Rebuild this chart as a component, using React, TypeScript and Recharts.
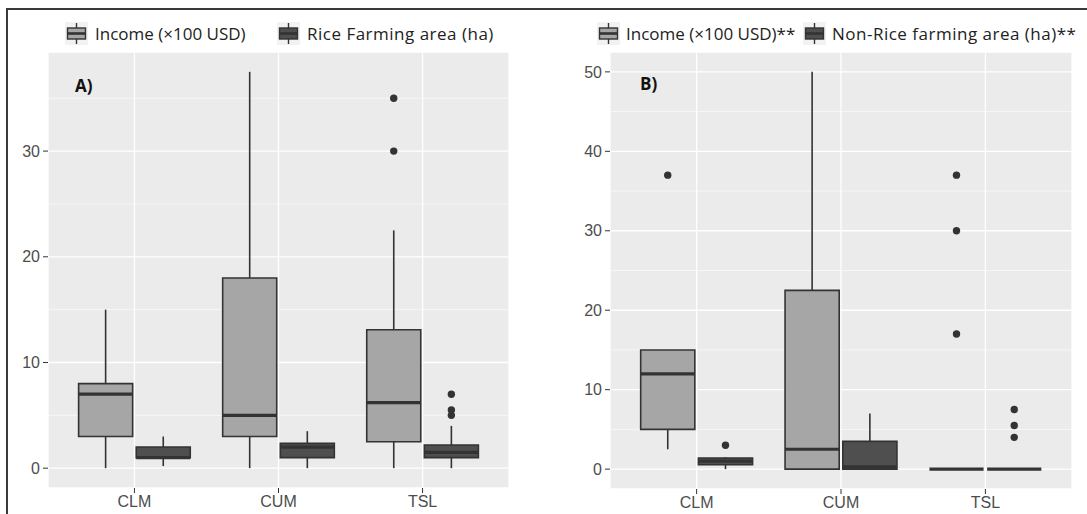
import React from "react";
import { ComposedChart, XAxis, YAxis, CartesianGrid, ReferenceArea, ReferenceLine, Scatter } from "recharts";

const categories = ["CLM", "CUM", "TSL"];

// box stats per category: [lower whisker, Q1, median, Q3, upper whisker]
const incomeA = [[0, 3, 7, 8, 15], [0, 3, 5, 18, 37.5], [0, 2.5, 6.2, 13.1, 22.5]];
const riceAreaA = [[0.2, 1, 1, 2, 3], [0, 1, 2, 2.35, 3.5], [0, 1, 1.5, 2.2, 4]];
const incomeAOutliers = [[], [], [30, 35]];
const riceAreaAOutliers = [[], [], [5, 5.5, 7]];

const incomeB = [[2.5, 5, 12, 15, 15], [0, 0, 2.5, 22.5, 50], [0, 0, 0, 0, 0]];
const nonRiceAreaB = [[0, 0.55, 1, 1.4, 1.5], [0, 0, 0.3, 3.5, 7], [0, 0, 0, 0, 0]];
const incomeBOutliers = [[37], [], [17, 30, 37]];
const nonRiceAreaBOutliers = [[3], [], [4, 5.5, 7.5]];

const ticksA = [0, 10, 20, 30];
const minorA = [5, 15, 25, 35];
const ticksB = [0, 10, 20, 30, 40, 50];
const minorB = [5, 15, 25, 35, 45];

const INCOME_FILL = "#a6a6a6";
const AREA_FILL = "#4f4f4f";
const LINE = "#333333";
const DODGE = 0.2;
const HALF = 0.1875;

type Series = { stats: number[][]; outliers: number[][]; fill: string; offset: number };

function boxElements(s: Series, key: string) {
  const els: React.ReactNode[] = [];
  s.stats.forEach((st, i) => {
    const c = i + 1 + s.offset;
    const [, q1, , q3] = st;
    if (q3 > q1) {
      els.push(
        <ReferenceArea key={`${key}-box-${i}`} x1={c - HALF} x2={c + HALF} y1={q1} y2={q3}
          fill={s.fill} fillOpacity={1} stroke={LINE} strokeWidth={1.6} ifOverflow="visible" />
      );
    }
  });
  s.stats.forEach((st, i) => {
    const c = i + 1 + s.offset;
    const [lo, q1, med, q3, hi] = st;
    if (q1 > lo) {
      els.push(<ReferenceLine key={`${key}-wl-${i}`} segment={[{ x: c, y: lo }, { x: c, y: q1 }]} stroke={LINE} strokeWidth={1.6} ifOverflow="visible" />);
    }
    if (hi > q3) {
      els.push(<ReferenceLine key={`${key}-wh-${i}`} segment={[{ x: c, y: q3 }, { x: c, y: hi }]} stroke={LINE} strokeWidth={1.6} ifOverflow="visible" />);
    }
    els.push(<ReferenceLine key={`${key}-med-${i}`} segment={[{ x: c - HALF, y: med }, { x: c + HALF, y: med }]} stroke={LINE} strokeWidth={3.2} ifOverflow="visible" />);
  });
  return els;
}

function outlierData(s: Series) {
  const pts: { x: number; y: number }[] = [];
  s.outliers.forEach((vals, i) => vals.forEach((v) => pts.push({ x: i + 1 + s.offset, y: v })));
  return pts;
}

const Dot = (p: any) => <circle cx={p.cx} cy={p.cy} r={3.7} fill={LINE} />;

const tickStyle = { fill: "#4d4d4d", fontSize: 16, fontFamily: "'Liberation Sans', Arial, sans-serif" };

function Panel(props: {
  width: number; marginRight: number; yWidth: number; xHeight: number;
  ticks: number[]; minor: number[]; max: number; series: Series[];
}) {
  const { width, marginRight, yWidth, xHeight, ticks, minor, max, series } = props;
  const pad = max * 0.05;
  return (
    <ComposedChart width={width} height={514} margin={{ top: 52, right: marginRight, bottom: 0, left: 0 }}>
      <CartesianGrid fill="#ebebeb" stroke="#ffffff" strokeWidth={1.3} />
      <CartesianGrid fill="none" stroke="#ffffff" strokeWidth={0.6} vertical={false} horizontalValues={minor} syncWithTicks={false} />
      <XAxis type="number" dataKey="x" domain={[0.4, 3.6]} allowDataOverflow ticks={[1, 2, 3]}
        tickFormatter={(v: number) => categories[v - 1]} height={xHeight} axisLine={false}
        tickLine={{ stroke: LINE }} tickSize={5} tickMargin={3} tick={tickStyle} interval={0} />
      <YAxis type="number" dataKey="y" domain={[-pad, max + pad]} allowDataOverflow ticks={ticks}
        width={yWidth} axisLine={false} tickLine={{ stroke: LINE }} tickSize={5} tickMargin={3} tick={tickStyle} interval={0} />
      {series.map((s, k) => boxElements(s, `s${k}`))}
      {series.map((s, k) => (
        <Scatter key={`o${k}`} data={outlierData(s)} shape={Dot} isAnimationActive={false} />
      ))}
    </ComposedChart>
  );
}

const LegendKey = ({ fill }: { fill: string }) => (
  <svg width={23} height={23} style={{ display: "block" }}>
    <rect x={0} y={0} width={23} height={23} fill="#f2f2f2" />
    <line x1={11.5} y1={1} x2={11.5} y2={22} stroke={LINE} strokeWidth={1.4} />
    <rect x={2.5} y={6} width={18} height={11} fill={fill} stroke={LINE} strokeWidth={1.4} />
    <line x1={2.5} y1={11.5} x2={20.5} y2={11.5} stroke={LINE} strokeWidth={2.6} />
  </svg>
);

const legendText: React.CSSProperties = {
  position: "absolute", top: 22, height: 23, lineHeight: "23px", fontSize: 17,
  fontFamily: "'Open Sans', sans-serif", color: "#222", whiteSpace: "nowrap",
};
const panelLabel: React.CSSProperties = {
  position: "absolute", fontSize: 17, fontWeight: 700, lineHeight: "22px",
  fontFamily: "'Open Sans', sans-serif", color: "#111",
};

export default function App() {
  const seriesA: Series[] = [
    { stats: incomeA, outliers: incomeAOutliers, fill: INCOME_FILL, offset: -DODGE },
    { stats: riceAreaA, outliers: riceAreaAOutliers, fill: AREA_FILL, offset: DODGE },
  ];
  const seriesB: Series[] = [
    { stats: incomeB, outliers: incomeBOutliers, fill: INCOME_FILL, offset: -DODGE },
    { stats: nonRiceAreaB, outliers: nonRiceAreaBOutliers, fill: AREA_FILL, offset: DODGE },
  ];
  return (
    <div style={{ position: "absolute", left: 0, top: 0, width: 1087, height: 514, background: "#fff", overflow: "hidden" }}>
      <div style={{ position: "absolute", left: 0, top: 0 }}>
        <Panel width={545} marginRight={36} yWidth={48} xHeight={26} ticks={ticksA} minor={minorA} max={37.5} series={seriesA} />
      </div>
      <div style={{ position: "absolute", left: 545, top: 0 }}>
        <Panel width={542} marginRight={15} yWidth={65} xHeight={25} ticks={ticksB} minor={minorB} max={50} series={seriesB} />
      </div>

      <div style={{ position: "absolute", left: 7, top: 8, width: 1080, height: 2, background: "#3a3a3a" }} />
      <div style={{ position: "absolute", left: 6, top: 8, width: 2, height: 506, background: "#3a3a3a" }} />

      <div style={{ position: "absolute", left: 65, top: 22 }}><LegendKey fill={INCOME_FILL} /></div>
      <div style={{ ...legendText, left: 95 }}>Income (×100 USD)</div>
      <div style={{ position: "absolute", left: 277, top: 22 }}><LegendKey fill={AREA_FILL} /></div>
      <div style={{ ...legendText, left: 307, letterSpacing: 0.5 }}>Rice Farming area (ha)</div>

      <div style={{ position: "absolute", left: 597, top: 22 }}><LegendKey fill={INCOME_FILL} /></div>
      <div style={{ ...legendText, left: 626 }}>Income (×100 USD)**</div>
      <div style={{ position: "absolute", left: 803, top: 22 }}><LegendKey fill={AREA_FILL} /></div>
      <div style={{ ...legendText, left: 832, letterSpacing: 0.5 }}>Non-Rice farming area (ha)**</div>

      <div style={{ ...panelLabel, left: 75, top: 75 }}>A)</div>
      <div style={{ ...panelLabel, left: 640, top: 73 }}>B)</div>
    </div>
  );
}
